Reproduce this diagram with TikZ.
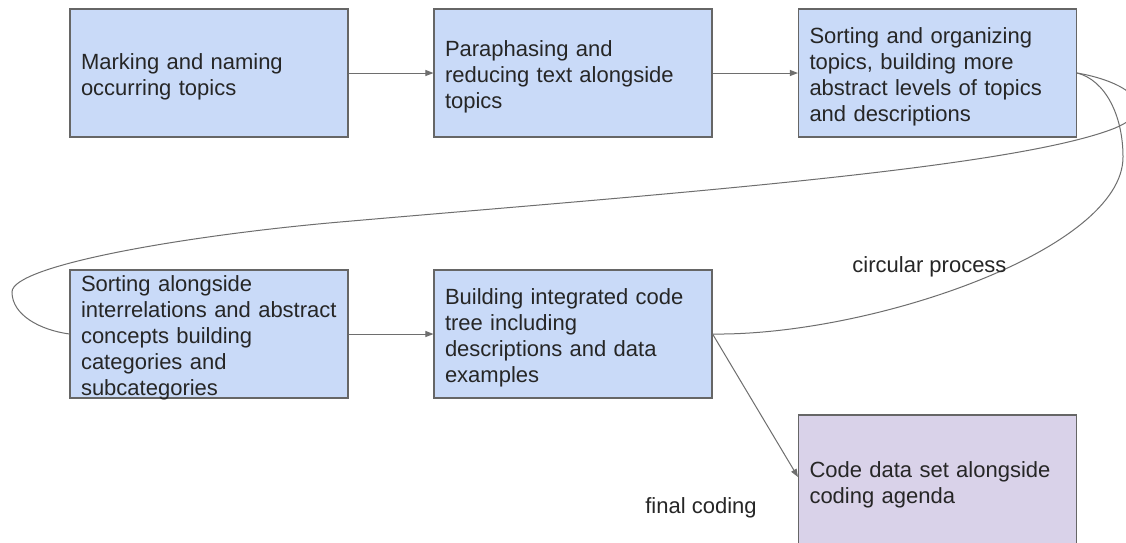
\documentclass[tikz,border=0pt]{standalone}
\usepackage{fontspec}
\setmainfont{Liberation Sans}
\usetikzlibrary{arrows.meta}

\definecolor{stepblue}{HTML}{C9DAF8}
\definecolor{steppurple}{HTML}{D9D2E9}
\definecolor{edgegray}{HTML}{6E6E6E}
\definecolor{framegray}{HTML}{666666}

\tikzset{
  toppad/.style={execute at begin node={\rule{0pt}{#1}}},
  stepbox/.style={draw=framegray, line width=1.1pt, fill=stepblue,
    minimum width=278pt, minimum height=128pt, inner xsep=11pt,
    text width=256pt, align=left, font=\fontsize{22}{26}\selectfont,
    text=black!85, toppad=24pt},
  tallbox/.style={stepbox, inner ysep=-3pt, toppad=19pt},
  finalbox/.style={stepbox, fill=steppurple, minimum height=132pt, toppad=20pt},
  flow/.style={draw=edgegray, line width=1pt,
    -{Triangle[length=8pt,width=6pt]}},
  loopline/.style={draw=edgegray, line width=1pt},
  note/.style={font=\fontsize{22}{26}\selectfont, text=black!85, inner sep=0pt}
}

\begin{document}
\begin{tikzpicture}[x=1pt, y=-1pt]
  \useasboundingbox (0,0) rectangle (1126,542);
  \clip (0,0) rectangle (1126,542);
  \fill[white] (0,0) rectangle (1126,542);

  % process steps
  \node[stepbox] (b1) at (209,73) {Marking and naming\\occurring topics};
  \node[stepbox] (b2) at (573,73) {Paraphasing and\\reducing text alongside\\topics};
  \node[stepbox] (b3) at (937.5,73) {Sorting and organizing\\topics, building more\\abstract levels of topics\\and descriptions};
  \node[tallbox] (b4) at (209,334) {Sorting alongside\\interrelations and abstract\\concepts building\\categories and\\subcategories};
  \node[stepbox] (b5) at (573,334) {Building integrated code\\tree including\\descriptions and data\\examples};
  \node[finalbox] (b6) at (937.5,481) {Code data set alongside\\coding agenda};

  % straight flow arrows
  \draw[flow] (b1.east) -- (b2.west);
  \draw[flow] (b2.east) -- (b3.west);
  \draw[flow] (b4.east) -- (b5.west);
  \draw[flow] (b5.east) -- ([yshift=4pt]b6.west);

  % loop back to the categorising step
  \draw[loopline] (b3.east)
    .. controls (1130,82) and (1165,110) .. (1110,130)
    .. controls (1000,170) and (650,195) .. (340,222)
    .. controls (190,235) and (12,265) .. (12,292)
    .. controls (12,315) and (40,330) .. (b4.west);

  % loop from the code tree back to the sorting step
  \draw[loopline] (b3.east)
    .. controls (1105,80) and (1123,115) .. (1123,157)
    .. controls (1123,250) and (870,336) .. (b5.east);

  % labels
  \node[note] (lcirc) at (929.5,267) {circular process};
  \node[note] (lfinal) at (701,508) {final coding};
\end{tikzpicture}
\end{document}
